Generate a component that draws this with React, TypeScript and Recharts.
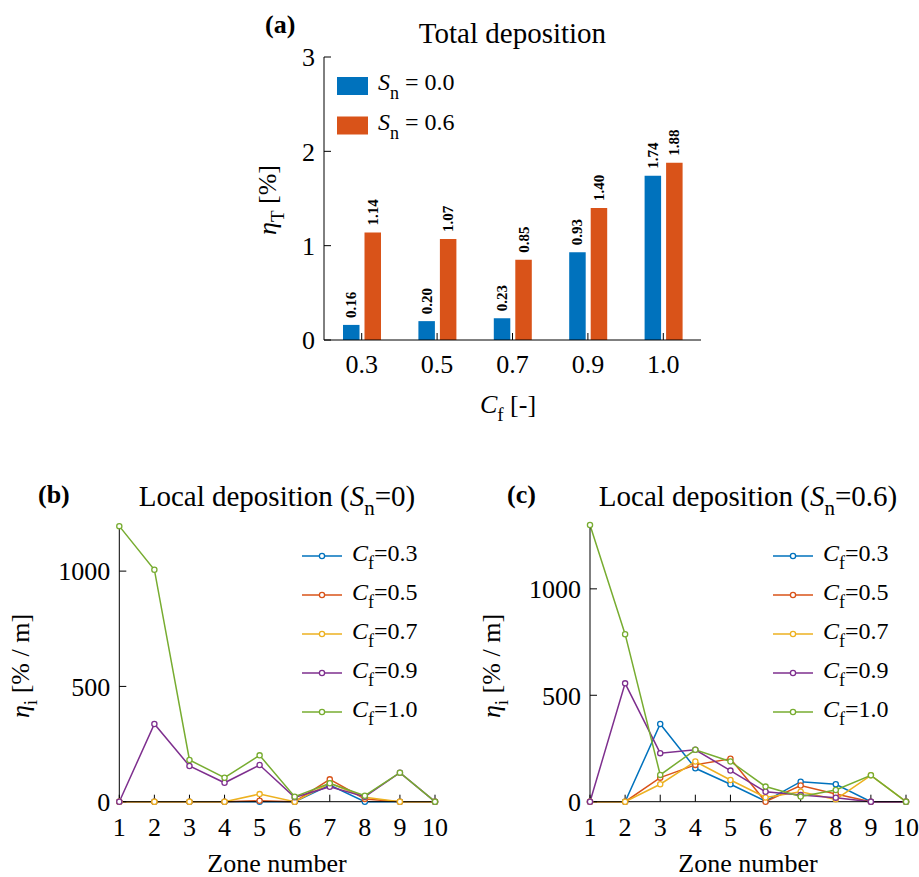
import React from 'react';
import { BarChart, Bar, LineChart, Line, XAxis, YAxis, LabelList } from 'recharts';

const FONT = '"Liberation Serif", "Times New Roman", Times, serif';

// ---------- Panel (a) data ----------
const cfCategories = ['0.3', '0.5', '0.7', '0.9', '1.0'];
const totalSn00 = [0.16, 0.2, 0.23, 0.93, 1.74];
const totalSn06 = [1.14, 1.07, 0.85, 1.4, 1.88];
const totalTicks = [0, 1, 2, 3];
const barColors = ['#0072BD', '#D95319'];
const barLegend = ['0.0', '0.6'];

// ---------- Panels (b), (c) data ----------
const zones = [1, 2, 3, 4, 5, 6, 7, 8, 9, 10];
const zoneTicks = [1, 2, 3, 4, 5, 6, 7, 8, 9, 10];
const localTicks = [0, 500, 1000];
const cfNames = ['0.3', '0.5', '0.7', '0.9', '1.0'];
const lineColors = ['#0072BD', '#D95319', '#EDB120', '#7E2F8E', '#77AC30'];

const localSn0Cf03 = [0, 0, 0, 0, 0, 0, 72, 0, 0, 0];
const localSn0Cf05 = [0, 0, 0, 0, 4, 0, 97, 12, 0, 0];
const localSn0Cf07 = [0, 0, 0, 0, 33, 0, 80, 19, 0, 0];
const localSn0Cf09 = [0, 337, 155, 82, 159, 19, 65, 22, 126, 0];
const localSn0Cf10 = [1195, 1006, 181, 104, 201, 22, 80, 26, 126, 0];

const localSn6Cf03 = [0, 0, 365, 157, 82, 3, 94, 82, 0, 0];
const localSn6Cf05 = [0, 0, 113, 173, 202, 0, 76, 36, 0, 0];
const localSn6Cf07 = [0, 0, 82, 189, 102, 20, 47, 11, 124, 0];
const localSn6Cf09 = [0, 556, 228, 244, 146, 47, 31, 19, 0, 0];
const localSn6Cf10 = [1300, 787, 126, 244, 189, 71, 24, 55, 124, 0];

const localSn0 = [localSn0Cf03, localSn0Cf05, localSn0Cf07, localSn0Cf09, localSn0Cf10];
const localSn6 = [localSn6Cf03, localSn6Cf05, localSn6Cf07, localSn6Cf09, localSn6Cf10];

const barData = cfCategories.map((c, i) => ({ cf: c, s0: totalSn00[i], s6: totalSn06[i] }));

function buildRows(sets: number[][]) {
  return zones.map((z, i) => {
    const row: any = { zone: z };
    sets.forEach((arr, k) => {
      row['c' + k] = arr[i];
    });
    return row;
  });
}

const tickStyle = { fill: '#000', fontSize: 26, fontFamily: FONT };

const renderBarLabel = (props: any) => {
  const { x, y, width, value } = props;
  const cx = Number(x) + Number(width) / 2 + 5;
  const cy = Number(y) - 7;
  return (
    <text
      x={cx}
      y={cy}
      transform={`rotate(-90, ${cx}, ${cy})`}
      textAnchor="start"
      fontFamily={FONT}
      fontWeight="bold"
      fontSize={15}
      fill="#000"
    >
      {Number(value).toFixed(2)}
    </text>
  );
};

function TotalChart() {
  return (
    <div style={{ position: 'absolute', left: 240, top: 0 }}>
      <BarChart
        width={480}
        height={420}
        data={barData}
        margin={{ top: 57, right: 19, bottom: 40, left: 34 }}
        barGap={5}
        barCategoryGap={0}
      >
        <XAxis
          dataKey="cf"
          xAxisId="b"
          tick={tickStyle}
          tickSize={-7}
          tickMargin={22}
          height={40}
          interval={0}
          stroke="#000"
        />
        <XAxis dataKey="cf" xAxisId="t" orientation="top" tick={false} tickSize={-7} height={0} interval={0} stroke="#000" />
        <YAxis
          yAxisId="l"
          type="number"
          domain={[0, 3]}
          ticks={totalTicks}
          tick={tickStyle}
          tickSize={-7}
          tickMargin={16}
          width={50}
          stroke="#000"
        />
        <YAxis
          yAxisId="r"
          orientation="right"
          type="number"
          domain={[0, 3]}
          ticks={totalTicks}
          tick={false}
          tickSize={-7}
          width={0}
          stroke="#000"
        />
        <Bar xAxisId="b" yAxisId="l" dataKey="s0" fill={barColors[0]} barSize={16.5} isAnimationActive={false}>
          <LabelList dataKey="s0" content={renderBarLabel} />
        </Bar>
        <Bar xAxisId="b" yAxisId="l" dataKey="s6" fill={barColors[1]} barSize={16.5} isAnimationActive={false}>
          <LabelList dataKey="s6" content={renderBarLabel} />
        </Bar>
      </BarChart>
    </div>
  );
}

function LocalChart({ left, width, marginLeft, marginRight, yMax, sets }: any) {
  const rows = buildRows(sets);
  return (
    <div style={{ position: 'absolute', left, top: 440 }}>
      <LineChart
        width={width}
        height={437}
        data={rows}
        margin={{ top: 85, right: marginRight, bottom: 35.3, left: marginLeft }}
      >
        <XAxis
          dataKey="zone"
          xAxisId="b"
          type="number"
          domain={[1, 10]}
          ticks={zoneTicks}
          tick={tickStyle}
          tickSize={-7}
          tickMargin={22.5}
          height={40}
          interval={0}
          stroke="#000"
        />
        <XAxis
          dataKey="zone"
          xAxisId="t"
          orientation="top"
          type="number"
          domain={[1, 10]}
          ticks={zoneTicks}
          tick={false}
          tickSize={-7}
          height={0}
          interval={0}
          stroke="#000"
        />
        <YAxis
          yAxisId="l"
          type="number"
          domain={[0, yMax]}
          ticks={localTicks}
          tick={tickStyle}
          tickSize={-7}
          tickMargin={16}
          width={60}
          stroke="#000"
        />
        <YAxis
          yAxisId="r"
          orientation="right"
          type="number"
          domain={[0, yMax]}
          ticks={localTicks}
          tick={false}
          tickSize={-7}
          width={0}
          stroke="#000"
        />
        {cfNames.map((n, k) => (
          <Line
            key={n}
            xAxisId="b"
            yAxisId="l"
            type="linear"
            dataKey={'c' + k}
            stroke={lineColors[k]}
            strokeWidth={1.5}
            dot={{ r: 2.6, fill: '#fff', stroke: lineColors[k], strokeWidth: 1.3 }}
            activeDot={false}
            isAnimationActive={false}
          />
        ))}
      </LineChart>
    </div>
  );
}

function LineLegend({ x0 }: { x0: number }) {
  return (
    <g>
      {cfNames.map((n, k) => {
        const y = 556 + k * 39;
        return (
          <g key={n}>
            <line x1={x0} x2={x0 + 40} y1={y} y2={y} stroke={lineColors[k]} strokeWidth={1.5} />
            <circle cx={x0 + 20} cy={y} r={2.6} fill="#fff" stroke={lineColors[k]} strokeWidth={1.3} />
            <text x={x0 + 50} y={y + 5} fontFamily={FONT} fontSize={24} fill="#000">
              <tspan fontStyle="italic">C</tspan>
              <tspan fontSize={18} dy={8}>f</tspan>
              <tspan dy={-8}>={n}</tspan>
            </text>
          </g>
        );
      })}
    </g>
  );
}

function Overlay() {
  return (
    <svg
      width={919}
      height={877}
      style={{ position: 'absolute', left: 0, top: 0, pointerEvents: 'none' }}
    >
      {/* Panel (a) */}
      <text x={265} y={33} fontFamily={FONT} fontSize={26} fontWeight="bold" fill="#000">(a)</text>
      <text x={512.5} y={43} textAnchor="middle" fontFamily={FONT} fontSize={29} fill="#000">Total deposition</text>
      <text
        x={276}
        y={200}
        transform="rotate(-90, 276, 200)"
        textAnchor="middle"
        fontFamily={FONT}
        fontSize={26}
        fill="#000"
      >
        <tspan fontStyle="italic">η</tspan>
        <tspan fontSize={19} dy={8}>T</tspan>
        <tspan dy={-8}> [%]</tspan>
      </text>
      <text x={508} y={413} textAnchor="middle" fontFamily={FONT} fontSize={26} fill="#000">
        <tspan fontStyle="italic">C</tspan>
        <tspan fontSize={19} dy={8}>f</tspan>
        <tspan dy={-8}> [-]</tspan>
      </text>
      {barLegend.map((v, k) => {
        const y = 86 + k * 39.5;
        return (
          <g key={v}>
            <rect x={337} y={y - 9} width={31} height={18} fill={barColors[k]} />
            <text x={378} y={y + 4} fontFamily={FONT} fontSize={24} fill="#000">
              <tspan fontStyle="italic">S</tspan>
              <tspan fontSize={18} dy={9}>n</tspan>
              <tspan dy={-9}> = {v}</tspan>
            </text>
          </g>
        );
      })}

      {/* Panel (b) */}
      <text x={38} y={503} fontFamily={FONT} fontSize={26} fontWeight="bold" fill="#000">(b)</text>
      <text x={277} y={506} textAnchor="middle" fontFamily={FONT} fontSize={29} fill="#000">
        Local deposition (<tspan fontStyle="italic">S</tspan>
        <tspan fontSize={21} dy={9}>n</tspan>
        <tspan dy={-9}>=0)</tspan>
      </text>
      <text
        x={29}
        y={666}
        transform="rotate(-90, 29, 666)"
        textAnchor="middle"
        fontFamily={FONT}
        fontSize={26}
        fill="#000"
      >
        <tspan fontStyle="italic">η</tspan>
        <tspan fontSize={19} dy={8}>i</tspan>
        <tspan dy={-8}> [% / m]</tspan>
      </text>
      <text x={277} y={872} textAnchor="middle" fontFamily={FONT} fontSize={26} fill="#000">Zone number</text>
      <LineLegend x0={302} />

      {/* Panel (c) */}
      <text x={507} y={503} fontFamily={FONT} fontSize={26} fontWeight="bold" fill="#000">(c)</text>
      <text x={748} y={506} textAnchor="middle" fontFamily={FONT} fontSize={29} fill="#000">
        Local deposition (<tspan fontStyle="italic">S</tspan>
        <tspan fontSize={21} dy={9}>n</tspan>
        <tspan dy={-9}>=0.6)</tspan>
      </text>
      <text
        x={500}
        y={666}
        transform="rotate(-90, 500, 666)"
        textAnchor="middle"
        fontFamily={FONT}
        fontSize={26}
        fill="#000"
      >
        <tspan fontStyle="italic">η</tspan>
        <tspan fontSize={19} dy={8}>i</tspan>
        <tspan dy={-8}> [% / m]</tspan>
      </text>
      <text x={748} y={872} textAnchor="middle" fontFamily={FONT} fontSize={26} fill="#000">Zone number</text>
      <LineLegend x0={773} />
    </svg>
  );
}

export default function App() {
  return (
    <div style={{ position: 'absolute', left: 0, top: 0, width: 919, height: 877, background: '#fff', overflow: 'hidden' }}>
      <TotalChart />
      <LocalChart left={0} width={460} marginLeft={59.3} marginRight={25} yMax={1200} sets={localSn0} />
      <LocalChart left={460} width={459} marginLeft={70} marginRight={13} yMax={1300} sets={localSn6} />
      <Overlay />
    </div>
  );
}
